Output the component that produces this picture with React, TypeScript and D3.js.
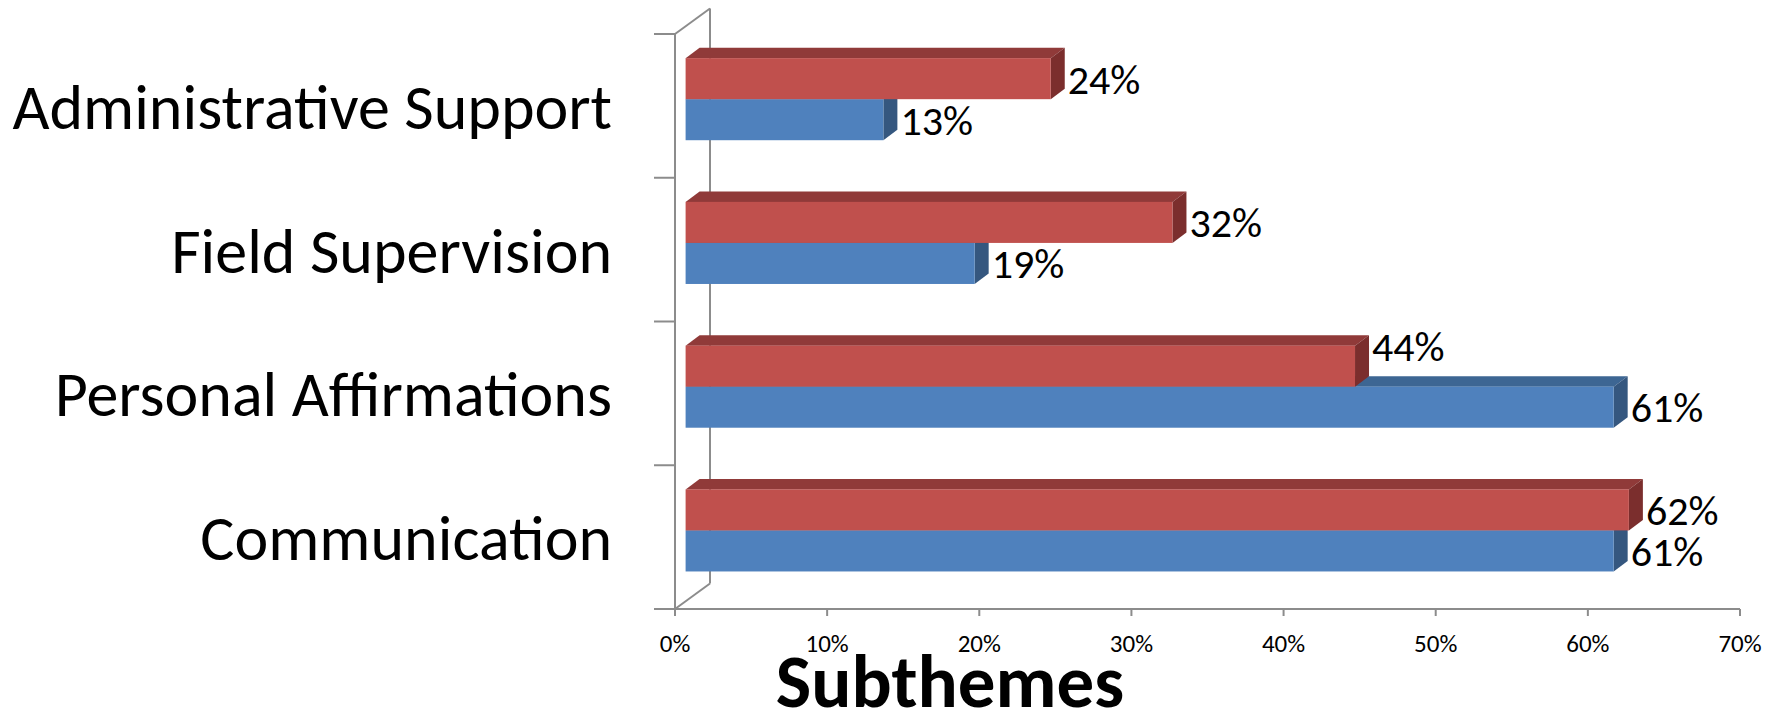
import React from "react";
import * as d3 from "d3";

const categories = ["Administrative Support", "Field Supervision", "Personal Affirmations", "Communication"];
const blueValues = [13, 19, 61, 61];
const redValues = [24, 32, 44, 62];
const xTicks = [0, 10, 20, 30, 40, 50, 60, 70];
const title = "Subthemes";

const W = 1779;
const H = 717;
const FONT = "Carlito, Calibri, Lato, 'Open Sans', sans-serif";

export default function App() {
  const x = d3.scaleLinear().domain([0, 70]).range([675, 1740]);
  const y = d3.scaleBand<string>().domain(categories).range([34, 609]);
  const bw = y.bandwidth();
  const wallDX = 35;
  const wallDY = -25.5;
  const offX = 10.6;
  const offY = -6.7;
  const dX = 14;
  const dY = -10.5;
  const barH = bw * 0.2855;
  const axisColor = "#8c8c8c";
  const labelSize = 42;

  const colors = {
    blue: { front: "#4F81BD", top: "#3D6693", side: "#35577F" },
    red: { front: "#C0504D", top: "#903A39", side: "#7B2E2D" },
  };

  const bar = (
    key: string,
    v: number,
    top: number,
    c: { front: string; top: string; side: string },
    labelCenter: number
  ) => {
    const x0 = x(0) + offX;
    const x1 = x(v) + offX;
    const bottom = top + barH;
    const topFace = `M${x0},${top}L${x0 + dX},${top + dY}L${x1 + dX},${top + dY}L${x1},${top}Z`;
    const sideFace = `M${x1},${top}L${x1 + dX},${top + dY}L${x1 + dX},${bottom + dY}L${x1},${bottom}Z`;
    return (
      <g key={key}>
        <path d={topFace} fill={c.top} />
        <path d={sideFace} fill={c.side} />
        <rect x={x0} y={top} width={x1 - x0} height={barH} fill={c.front} />
        <text
          x={x1 + dX + 3}
          y={labelCenter + labelSize * 0.358}
          fontFamily={FONT}
          fontSize={labelSize}
          fill="#000"
        >
          {`${v}%`}
        </text>
      </g>
    );
  };

  const boundaries = [...categories.map((c) => y(c) as number), 609];

  return (
    <svg
      width={W}
      height={H}
      viewBox={`0 0 ${W} ${H}`}
      style={{ position: "absolute", left: 0, top: 0, display: "block", background: "#fff" }}
    >
      {/* walls / axes */}
      <g stroke={axisColor} strokeWidth={2} fill="none">
        <line x1={x(0) + wallDX} y1={34 + wallDY} x2={x(0) + wallDX} y2={609 + wallDY} />
        <line x1={x(0)} y1={34} x2={x(0) + wallDX} y2={34 + wallDY} />
        <line x1={x(0)} y1={609} x2={x(0) + wallDX} y2={609 + wallDY} />
        <line x1={x(0)} y1={34} x2={x(0)} y2={609} />
        <line x1={x(0)} y1={609} x2={x(70)} y2={609} />
        {boundaries.map((b, i) => (
          <line key={`ct${i}`} x1={x(0) - 21} y1={b} x2={x(0)} y2={b} />
        ))}
        {xTicks.map((t) => (
          <line key={`xt${t}`} x1={x(t)} y1={609} x2={x(t)} y2={616} />
        ))}
      </g>

      {/* bars */}
      {categories.map((cat, i) => {
        const yc = (y(cat) as number) + bw / 2 + offY;
        const redTop = yc - barH;
        const redLabel = blueValues[i] > redValues[i] ? redTop : redTop + barH / 2;
        return (
          <g key={cat}>
            {bar(`b${i}`, blueValues[i], yc, colors.blue, yc + barH / 2)}
            {bar(`r${i}`, redValues[i], redTop, colors.red, redLabel)}
          </g>
        );
      })}

      {/* category labels */}
      {categories.map((cat) => (
        <text
          key={`l${cat}`}
          x={612}
          y={(y(cat) as number) + bw / 2 + 23}
          textAnchor="end"
          fontFamily={FONT}
          fontSize={64}
          fill="#000"
        >
          {cat}
        </text>
      ))}

      {/* x tick labels */}
      {xTicks.map((t) => (
        <text
          key={`xl${t}`}
          x={x(t)}
          y={651.5}
          textAnchor="middle"
          fontFamily={FONT}
          fontSize={25}
          fill="#000"
        >
          {`${t}%`}
        </text>
      ))}

      <text
        x={950}
        y={707}
        textAnchor="middle"
        fontFamily={FONT}
        fontSize={75}
        fontWeight="bold"
        fill="#000"
      >
        {title}
      </text>
    </svg>
  );
}
